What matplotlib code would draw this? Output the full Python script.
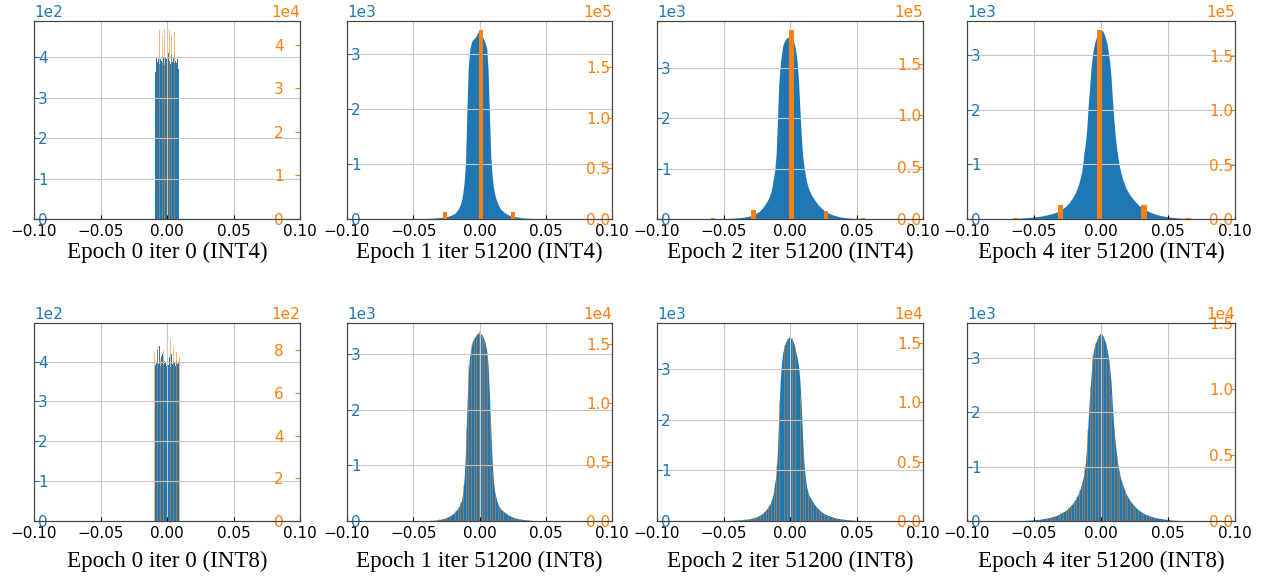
import matplotlib
matplotlib.use('Agg')
import matplotlib.pyplot as plt
from matplotlib.ticker import MultipleLocator
import numpy as np

# bin edges of the full precision histograms: 0.001 wide in the core, 0.0025 in the tails
left = np.linspace(-0.075, -0.015, 25)
core = np.linspace(-0.015, 0.015, 31)
right = np.linspace(0.015, 0.075, 25)
edges = np.concatenate([left, core[1:], right[1:]])
edges_e0 = np.linspace(-0.009, 0.009, 37)

# full precision weight histograms (blue)
fp_e0_int4 = [365, 392, 398, 388, 401, 395, 384, 405, 396, 390, 410, 386, 399, 393, 380, 402, 415, 397,
              388, 404, 412, 391, 398, 383, 406, 394, 389, 401, 396, 385, 392, 399, 387, 395, 380, 372]
fp_e1_int4 = [0, 0, 0, 0, 0, 0, 0, 0, 0, 0, 2, 3, 6, 8, 11, 14, 18, 22, 30, 40, 50, 70, 100, 170,
              260, 340, 480, 700, 1050, 2000, 2750, 3050, 3180, 3250, 3270, 3300, 3330, 3380, 3420,
              3440, 3350, 3300, 3250, 3180, 3100, 2700, 1900, 1150, 800, 580, 450, 360, 300, 240,
              170, 120, 80, 60, 45, 35, 25, 19, 14, 10, 7, 4, 2, 1, 0, 0, 0, 0, 0, 0, 0, 0, 0, 0]
fp_e2_int4 = [0, 0, 0, 0, 0, 1, 2, 3, 4, 5, 8, 11, 15, 19, 25, 30, 40, 52, 70, 100, 140, 200, 290, 400,
              520, 640, 800, 960, 1250, 1900, 2650, 3020, 3250, 3430, 3510, 3560, 3590, 3610, 3620,
              3600, 3580, 3540, 3450, 3300, 3080, 2700, 2150, 1650, 1250, 1050, 880, 740, 640, 570,
              470, 370, 280, 210, 160, 120, 90, 70, 50, 38, 28, 20, 14, 10, 7, 5, 3, 2, 1, 0, 0, 0, 0, 0]
fp_e4_int4 = [2, 4, 6, 9, 12, 15, 19, 23, 28, 34, 40, 48, 58, 70, 85, 100, 120, 150, 190, 235, 300, 390, 500, 680,
              850, 1050, 1250, 1420, 1700, 2100, 2400, 2750, 2980, 3150, 3250, 3330, 3400, 3440, 3470,
              3460, 3440, 3380, 3300, 3220, 3050, 2880, 2600, 2200, 1850, 1550, 1330, 1150, 1000, 880,
              720, 560, 450, 370, 300, 240, 195, 160, 130, 105, 85, 68, 55, 45, 36, 29, 23, 18, 14, 10, 7, 5, 3, 2]
fp_e0_int8 = [392, 405, 398, 430, 412, 395, 440, 402, 388, 415, 398, 420, 392, 385, 401, 396, 410, 389,
              397, 404, 392, 412, 399, 386, 420, 405, 395, 400, 418, 396, 388, 425, 402, 395, 410, 398]
fp_e1_int8 = [0, 0, 0, 0, 0, 0, 0, 0, 0, 0, 1, 2, 4, 6, 8, 11, 15, 24, 35, 50, 75, 110, 160, 230,
              310, 380, 520, 800, 1300, 2050, 2650, 2950, 3100, 3220, 3270, 3310, 3340, 3370, 3390,
              3380, 3350, 3320, 3260, 3180, 3050, 2800, 2250, 1650, 1100, 720, 520, 420, 330, 270,
              210, 160, 115, 85, 60, 45, 33, 25, 18, 13, 9, 6, 4, 2, 1, 0, 0, 0, 0, 0, 0, 0, 0, 0]
fp_e2_int8 = [0, 0, 0, 0, 0, 1, 2, 3, 4, 6, 8, 11, 14, 18, 22, 27, 33, 42, 55, 70, 100, 140, 200, 280,
              370, 450, 560, 750, 900, 1350, 2050, 2700, 3100, 3320, 3430, 3520, 3580, 3610, 3640,
              3620, 3590, 3540, 3450, 3330, 3200, 3050, 2750, 2250, 1600, 1150, 850, 680, 570, 490,
              420, 310, 240, 180, 140, 110, 85, 65, 50, 40, 32, 25, 19, 14, 10, 7, 5, 3, 2, 1, 0, 0, 0, 0]
fp_e4_int8 = [0, 0, 1, 2, 4, 6, 9, 12, 16, 20, 26, 32, 40, 50, 62, 78, 98, 125, 160, 195, 250, 320, 410, 540,
              680, 780, 900, 1100, 1450, 1900, 2300, 2650, 2980, 3150, 3250, 3310, 3370, 3420, 3450,
              3440, 3400, 3340, 3270, 3160, 3020, 2820, 2550, 2120, 1750, 1480, 1250, 1050, 920, 800,
              660, 500, 390, 310, 240, 190, 150, 120, 95, 75, 60, 48, 38, 30, 23, 17, 12, 8, 5, 3, 1, 0, 0, 0]

# quantized weight histograms (orange)
lv_e0_int4 = [-0.0054, -0.0036, -0.0018, 0.0, 0.0018, 0.0036, 0.0054]
q_e0_int4 = [43500, 42000, 43600, 42800, 43400, 42200, 43000]
lv_e1_int4 = [-0.026, 0.001, 0.0255]
q_e1_int4 = [7000, 187000, 7000]
lv_e2_int4 = [-0.058, -0.0275, 0.001, 0.027, 0.055]
q_e2_int4 = [800, 8500, 182000, 8000, 700]
lv_e4_int4 = [-0.064, -0.030, -0.001, 0.032, 0.065]
q_e4_int4 = [1000, 12500, 174000, 12500, 1000]

lv_e0_int8 = [-0.0094, -0.0071, -0.0047, -0.0024, 0.0, 0.0024, 0.0047, 0.0071, 0.0094]
q_e0_int8 = [790, 820, 760, 800, 780, 850, 810, 790, 770]
lv_int8 = np.linspace(-0.04, 0.04, 41)
q_e1_int8 = [30, 40, 55, 75, 100, 140, 190, 240, 310, 450, 610, 850, 1130, 1600, 3070, 7900, 13200,
             14900, 15500, 15900, 16100, 15800, 15200, 13800, 9200, 4250, 2200, 1400, 1040, 800, 610,
             470, 380, 280, 225, 170, 130, 100, 75, 55, 40]
q_e2_int8 = [70, 85, 105, 130, 170, 210, 245, 300, 420, 530, 700, 940, 1240, 1750, 2770, 4700, 10100,
             13700, 14800, 15300, 15900, 15400, 14500, 13300, 10600, 5800, 3250, 2260, 1830, 1450, 1100,
             940, 770, 620, 490, 380, 320, 255, 205, 170, 135]
q_e4_int8 = [250, 290, 350, 410, 490, 575, 700, 820, 1030, 1230, 1480, 1810, 2340, 3000, 4110, 6900,
             10200, 12600, 13500, 14000, 14300, 13900, 13200, 12000, 9600, 6650, 4730, 3530, 2840, 2220,
             1810, 1480, 1230, 990, 820, 660, 530, 450, 370, 310, 250]

titles = ["Epoch 0 iter 0 (INT4)", "Epoch 1 iter 51200 (INT4)", "Epoch 2 iter 51200 (INT4)",
          "Epoch 4 iter 51200 (INT4)", "Epoch 0 iter 0 (INT8)", "Epoch 1 iter 51200 (INT8)",
          "Epoch 2 iter 51200 (INT8)", "Epoch 4 iter 51200 (INT8)"]

fp = [fp_e0_int4, fp_e1_int4, fp_e2_int4, fp_e4_int4, fp_e0_int8, fp_e1_int8, fp_e2_int8, fp_e4_int8]
fp_edges = [edges_e0, edges, edges, edges, edges_e0, edges, edges, edges]
lv = [lv_e0_int4, lv_e1_int4, lv_e2_int4, lv_e4_int4, lv_e0_int8, lv_int8, lv_int8, lv_int8]
q = [q_e0_int4, q_e1_int4, q_e2_int4, q_e4_int4, q_e0_int8, q_e1_int8, q_e2_int8, q_e4_int8]

# axis styling per panel
fp_top = [490, 3600, 3930, 3630, 497, 3560, 3910, 3640]
q_top = [45500, 195600, 191000, 182000, 927, 16800, 16650, 15000]
fp_step = [100, 1000, 1000, 1000, 100, 1000, 1000, 1000]
q_step = [10000, 50000, 50000, 50000, 200, 5000, 5000, 5000]
q_width = [0.0006, 0.003, 0.0035, 0.004, 0.0006, 0.0007, 0.0007, 0.0007]
q_alpha = [0.55, 1, 1, 1, 0.55, 0.5, 0.5, 0.5]

W, H = 1261, 579
col_left = [34, 347, 657, 967]
col_w = [266, 265, 266, 268]
row_top = [21, 323]
ax_h = 198
label_y = [-0.167, -0.202]

blue = '#1f77b4'
orange = '#ff7f0e'

plt.rcParams['font.size'] = 11
plt.rcParams['xtick.labelsize'] = 11
plt.rcParams['ytick.labelsize'] = 11

fig = plt.figure(figsize=(W / 100, H / 100), dpi=100)

for i in range(8):
    r, c = divmod(i, 4)
    ax = fig.add_axes([col_left[c] / W, 1 - (row_top[r] + ax_h) / H, col_w[c] / W, ax_h / H])
    e = fp_edges[i]
    if c == 0:
        ax.stairs(fp[i], e, fill=True, color=blue, lw=0)
    else:
        # fine-binned histogram drawn as its outline through the bin centres
        ax.fill_between((e[:-1] + e[1:]) / 2, fp[i], color=blue, lw=0)
    ax.set_xlim(-0.1, 0.1)
    ax.set_ylim(0, fp_top[i])
    ax.set_xticks([-0.1, -0.05, 0, 0.05, 0.1])
    ax.yaxis.set_major_locator(MultipleLocator(fp_step[i]))
    ax.ticklabel_format(axis='y', style='sci', scilimits=(0, 0))
    ax.grid(True, color='#c8c8c8', lw=0.8)
    ax.tick_params(axis='y', direction='in', colors=blue, pad=-10)
    ax.tick_params(axis='x', direction='in', length=3)
    for s in ax.spines.values():
        s.set_color('#444444')

    ax2 = ax.twinx()
    ax2.bar(lv[i], q[i], width=q_width[i], color=orange, alpha=q_alpha[i], lw=0)
    ax2.set_ylim(0, q_top[i])
    ax2.yaxis.set_major_locator(MultipleLocator(q_step[i]))
    ax2.ticklabel_format(axis='y', style='sci', scilimits=(0, 0))
    ax2.tick_params(axis='y', direction='in', colors=orange, pad=-18.7)
    for s in ax2.spines.values():
        s.set_color('#444444')

    ax.set_xlabel(titles[i], family='Liberation Serif', fontsize=16.6)
    ax.xaxis.set_label_coords(0.5, label_y[r])
    ax.xaxis.label.set_va('center')

fig.savefig('out.png', dpi=100)
